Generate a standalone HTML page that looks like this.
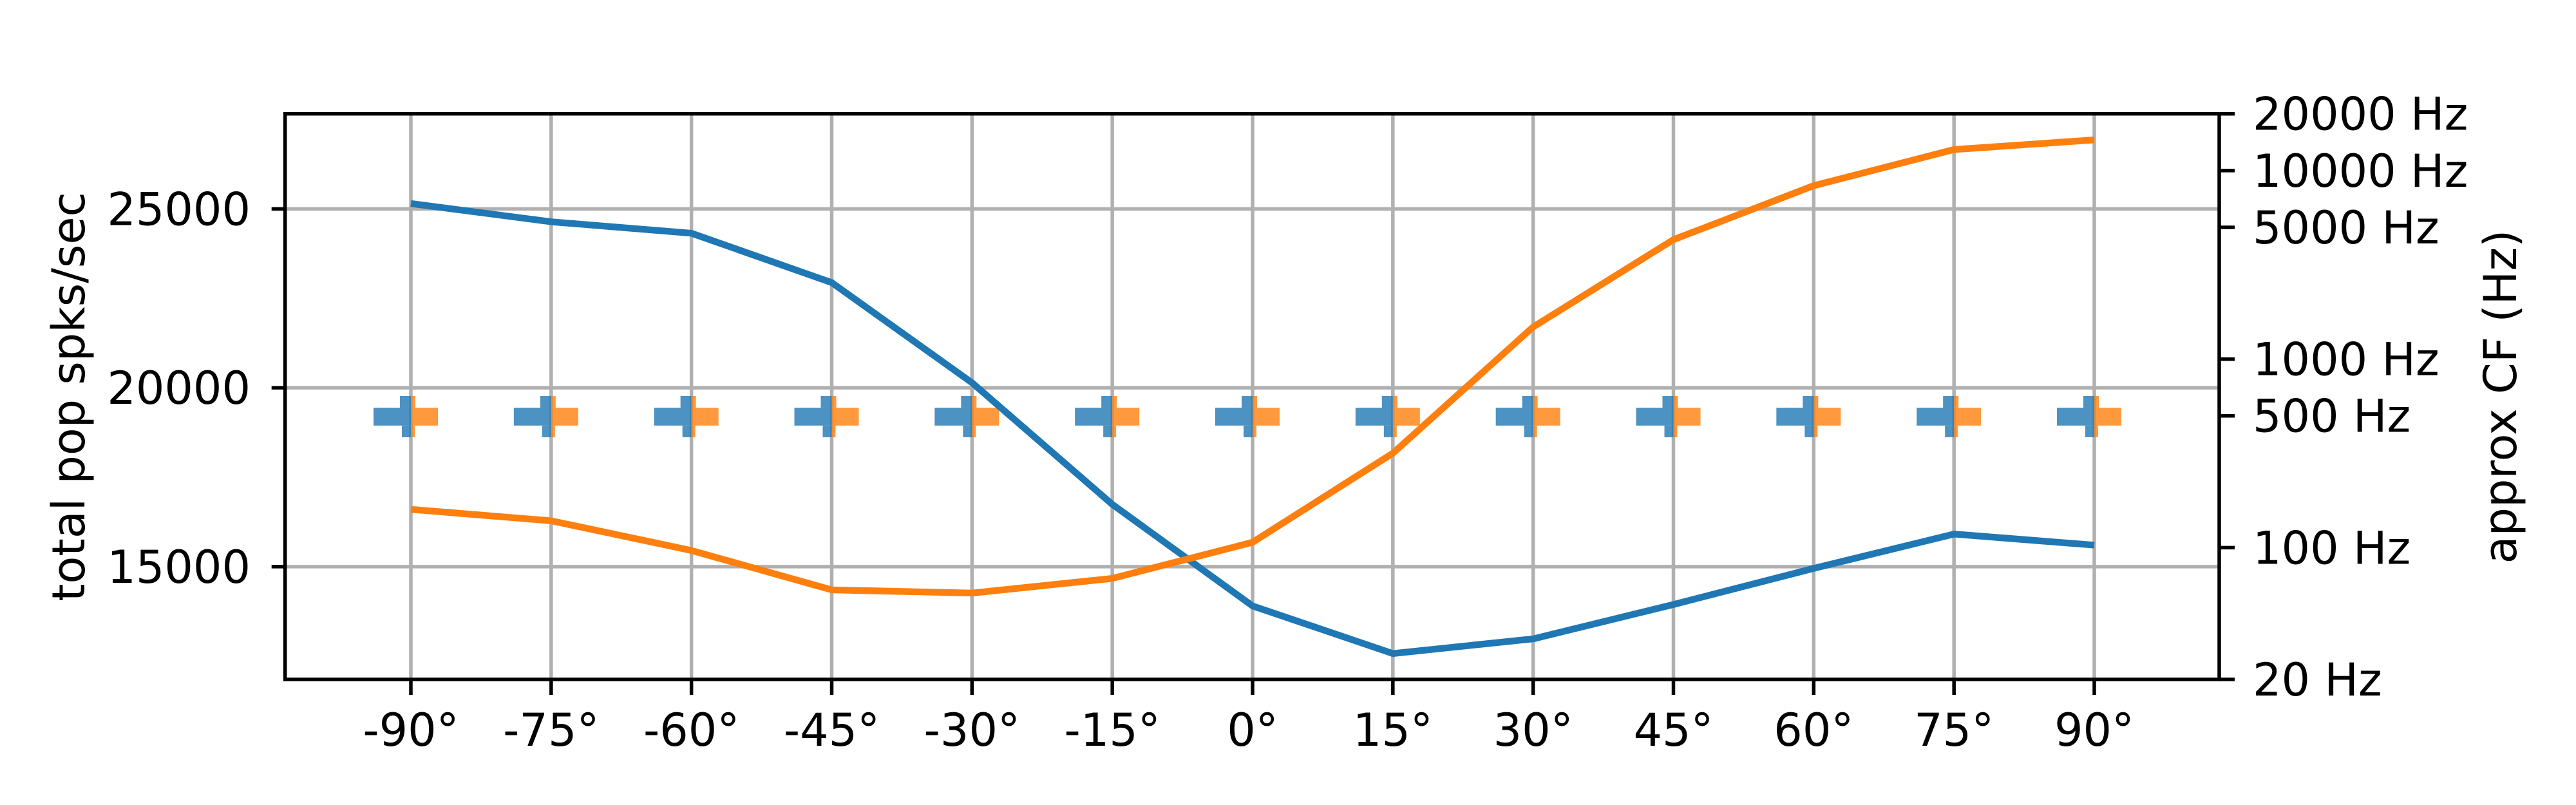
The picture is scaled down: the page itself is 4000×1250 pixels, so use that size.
<!DOCTYPE html>
<html><head><meta charset="utf-8"><style>
html,body{margin:0;padding:0;background:#fff;}
svg{display:block;font-family:"DejaVu Sans","Liberation Sans",sans-serif;}
</style></head><body>
<svg id="chart" width="4000" height="1250" viewBox="0 0 4000 1250" xmlns="http://www.w3.org/2000/svg">
<rect width="4000" height="1250" fill="#fff"/>
<g id="grid"></g>
<g id="hists"></g>
<g id="lines"></g>
<g id="axes"></g>
<text transform="translate(131,616) rotate(-90)" text-anchor="middle" font-size="70">total pop spks/sec</text>
<text transform="translate(3907,616) rotate(-90)" text-anchor="middle" font-size="70">approx CF (Hz)</text>
</svg>
<script>
const angles=[-90,-75,-60,-45,-30,-15,0,15,30,45,60,75,90];
const xTickLabels=["-90°","-75°","-60°","-45°","-30°","-15°","0°","15°","30°","45°","60°","75°","90°"];
const blueValues=[25150,24640,24320,22940,20140,16740,13900,12570,12980,13940,14950,15910,15600];
const orangeValues=[16600,16280,15450,14350,14260,14670,15680,18170,21700,24140,25650,26660,26930];
const yTicks=[15000,20000,25000];
const yTickLabels=["15000","20000","25000"];
const hzTicks=[20,100,500,1000,5000,10000,20000];
const hzTickLabels=["20 Hz","100 Hz","500 Hz","1000 Hz","5000 Hz","10000 Hz","20000 Hz"];
const binEdges=[385,444,552,637];
const blueCounts=[14,58,17];
const orangeCounts=[6,42,7];

const L=442.7,R=3446,T=176.7,B=1055;
const YMIN=11846,YMAX=27659;
const sx=v=>638+(v+90)*(3252-638)/180;
const sy=v=>B-(v-YMIN)/(YMAX-YMIN)*(B-T);
const sh=f=>B-Math.log10(f/20)/3*(B-T);
const NS="http://www.w3.org/2000/svg";
function mk(parent,tag,attrs){const e=document.createElementNS(NS,tag);for(const k in attrs)e.setAttribute(k,attrs[k]);parent.appendChild(e);return e;}
const grid=document.getElementById('grid'),axes=document.getElementById('axes'),lines=document.getElementById('lines'),hists=document.getElementById('hists');

angles.forEach((a,i)=>{
  const g=mk(grid,'line',{x1:sx(a),x2:sx(a),y1:T,y2:B,stroke:'#b0b0b0','stroke-width':5.5});
  
  
  const t=mk(axes,'line',{x1:sx(a),x2:sx(a),y1:B,y2:B+24,stroke:'#000','stroke-width':5.5});
  
  
  const l=mk(axes,'text',{x:sx(a),y:1158,'text-anchor':'middle','font-size':70});
  l.textContent=xTickLabels[i];
  
  
});
yTicks.forEach((v,i)=>{
  const g=mk(grid,'line',{x1:L,x2:R,y1:sy(v),y2:sy(v),stroke:'#b0b0b0','stroke-width':5.5});
  
  
  const t=mk(axes,'line',{x1:L-21,x2:L,y1:sy(v),y2:sy(v),stroke:'#000','stroke-width':5.5});
  
  
  const l=mk(axes,'text',{x:389,y:sy(v)+25,'text-anchor':'end','font-size':70});
  l.textContent=yTickLabels[i];
  
  
});
hzTicks.forEach((f,i)=>{
  const t=mk(axes,'line',{x1:R,x2:R+24,y1:sh(f),y2:sh(f),stroke:'#000','stroke-width':5.5});
  
  
  const l=mk(axes,'text',{x:3498,y:sh(f)+25,'font-size':70});
  l.textContent=hzTickLabels[i];
  
  
});
angles.forEach(a=>{
  const cx=sx(a);
  for(let b=0;b<blueCounts.length;b++){
    const y1=sh(binEdges[b+1]),y2=sh(binEdges[b]);
    const rb=mk(hists,'rect',{x:cx-blueCounts[b],y:y1,width:blueCounts[b],height:y2-y1,fill:'#1f77b4','fill-opacity':0.8});
    
    
    const ro=mk(hists,'rect',{x:cx,y:y1,width:orangeCounts[b],height:y2-y1,fill:'#ff7f0e','fill-opacity':0.8});
    
    
  }
});
function series(vals,color,name){
  const p=mk(lines,'polyline',{points:angles.map((a,i)=>sx(a)+','+sy(vals[i])).join(' '),fill:'none',stroke:color,'stroke-width':10.4,'stroke-linejoin':'round'});
  
  
}
series(blueValues,'#1f77b4','blue-line');
series(orangeValues,'#ff7f0e','orange-line');
const frame=mk(axes,'rect',{x:L,y:T,width:R-L,height:B-T,fill:'none',stroke:'#000','stroke-width':5.5});


</script>
</body></html>
